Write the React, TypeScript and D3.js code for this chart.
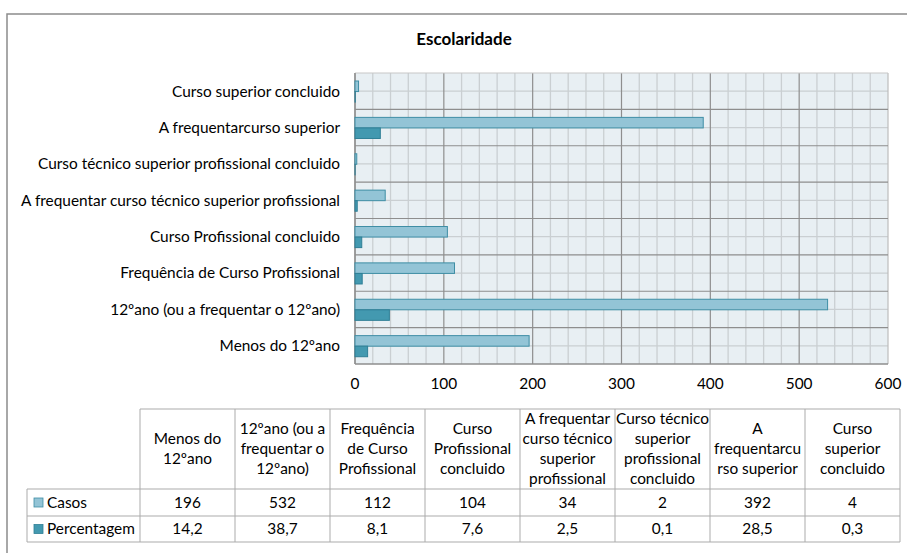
import React from "react";
import * as d3 from "d3";

const categories = [
  "Menos do 12ºano",
  "12ºano (ou a frequentar o 12ºano)",
  "Frequência de Curso Profissional",
  "Curso Profissional concluido",
  "A frequentar curso técnico superior profissional",
  "Curso técnico superior profissional concluido",
  "A frequentarcurso superior",
  "Curso superior concluido",
];
const tableHeaders = [
  ["Menos do", "12ºano"],
  ["12ºano (ou a", "frequentar o", "12ºano)"],
  ["Frequência", "de Curso", "Profissional"],
  ["Curso", "Profissional", "concluido"],
  ["A frequentar", "curso técnico", "superior", "profissional"],
  ["Curso técnico", "superior", "profissional", "concluido"],
  ["A", "frequentarcu", "rso superior"],
  ["Curso", "superior", "concluido"],
];
const casos = [196, 532, 112, 104, 34, 2, 392, 4];
const percentagem = [14.2, 38.7, 8.1, 7.6, 2.5, 0.1, 28.5, 0.3];
const percentLabels = ["14,2", "38,7", "8,1", "7,6", "2,5", "0,1", "28,5", "0,3"];
const seriesNames = ["Casos", "Percentagem"];
const xTicks = [0, 100, 200, 300, 400, 500, 600];

const FONT = "Lato, 'Open Sans', sans-serif";
const FS = 15.4;
const C_CASOS = "#93C4D6";
const C_CASOS_S = "#3F8EA5";
const C_PERC = "#4399B0";
const C_PERC_S = "#2F7F96";

export default function App() {
  const W = 907, H = 553;
  const left = 355, right = 888, top = 73, bottom = 364;
  const x = d3.scaleLinear().domain([0, 600]).range([left, right]);
  const y = d3.scaleBand<string>().domain(categories.slice().reverse()).range([top, bottom]).paddingInner(0);
  const bw = y.bandwidth();
  const minorX = d3.range(0, 601, 20);
  const tLeft = 140, colW = 95;
  const col = d3.scaleBand<number>().domain(d3.range(categories.length)).range([tLeft, tLeft + colW * categories.length]);
  const hTop = 409, hBot = 489, r1 = 516, r2 = 542, tableL = 27;
  const tableR = tLeft + colW * categories.length;
  const borderC = "#ABABAB";

  return (
    <svg width={W} height={H} style={{ position: "absolute", left: 0, top: 0, background: "#fff" }} fontFamily={FONT}>
      <rect x={7} y={14} width={W + 10} height={H + 10} fill="#fff" stroke="#8C8C8C" strokeWidth={1.5} />
      <text x={464} y={45} textAnchor="middle" fontSize={17} fontWeight="bold" fill="#000">Escolaridade</text>

      {/* plot area */}
      <rect x={left} y={top} width={right - left} height={bottom - top} fill="#E8EFF3" />
      {minorX.filter(v => v % 100 !== 0).map(v => (
        <line key={"mx" + v} x1={x(v)} x2={x(v)} y1={top} y2={bottom} stroke="#CACFD2" strokeWidth={1.3} />
      ))}
      {y.domain().map(c => (
        <line key={"my" + c} x1={left} x2={right} y1={y(c)! + bw / 2} y2={y(c)! + bw / 2} stroke="#CACFD2" strokeWidth={1.3} />
      ))}
      {xTicks.map(v => (
        <line key={"Mx" + v} x1={x(v)} x2={x(v)} y1={top} y2={bottom} stroke={v === 600 ? "#BDBDBD" : "#8E8E8E"} strokeWidth={1.2} />
      ))}
      {y.domain().map((c, i) => (
        <line key={"My" + c} x1={left} x2={right} y1={y(c)!} y2={y(c)!} stroke={i === 0 ? "#C8C8C8" : "#8E8E8E"} strokeWidth={1.2} />
      ))}
      <line x1={left} x2={right} y1={bottom} y2={bottom} stroke="#8E8E8E" strokeWidth={1.3} />
      <line x1={left} x2={left} y1={top} y2={bottom} stroke="#8E8E8E" strokeWidth={1.3} />

      {/* bars */}
      {categories.map((c, i) => {
        const b = y(c)!;
        const h = bw * 0.29;
        const y1 = b + bw * 0.22;
        return (
          <g key={"b" + i}>
            <rect x={x(0)} y={y1} width={x(casos[i]) - x(0)} height={h} fill={C_CASOS} stroke={C_CASOS_S} strokeWidth={1} />
            <rect x={x(0)} y={y1 + h} width={x(percentagem[i]) - x(0)} height={h} fill={C_PERC} stroke={C_PERC_S} strokeWidth={1} />
          </g>
        );
      })}

      {/* y labels */}
      {categories.map((c, i) => (
        <text key={"yl" + i} x={340} y={y(c)! + bw / 2} dy="0.35em" textAnchor="end" fontSize={FS} fill="#000">{c}</text>
      ))}
      {/* x labels */}
      {xTicks.map(v => (
        <text key={"xl" + v} x={x(v)} y={389} textAnchor="middle" fontSize={FS} fill="#000">{v}</text>
      ))}

      {/* table */}
      <g stroke={borderC} strokeWidth={1} fill="none">
        <line x1={tLeft} x2={tableR} y1={hTop} y2={hTop} />
        <line x1={tableL} x2={tableR} y1={hBot} y2={hBot} />
        <line x1={tableL} x2={tableR} y1={r1} y2={r1} />
        <line x1={tableL} x2={tableR} y1={r2} y2={r2} />
        <line x1={tableL} x2={tableL} y1={hBot} y2={r2} />
        {d3.range(categories.length + 1).map(k => (
          <line key={"tv" + k} x1={tLeft + k * colW} x2={tLeft + k * colW} y1={hTop} y2={r2} />
        ))}
      </g>
      {tableHeaders.map((lines, i) => {
        const cx = col(i)! + col.bandwidth() / 2;
        const mid = (hTop + hBot) / 2;
        return (
          <text key={"th" + i} textAnchor="middle" fontSize={FS} fill="#000">
            {lines.map((l, j) => (
              <tspan key={j} x={cx} y={mid + (j - (lines.length - 1) / 2) * 20} dy="0.35em">{l}</tspan>
            ))}
          </text>
        );
      })}
      {casos.map((v, i) => (
        <text key={"c" + i} x={col(i)! + col.bandwidth() / 2} y={(hBot + r1) / 2} dy="0.35em" textAnchor="middle" fontSize={FS} fill="#000">{v}</text>
      ))}
      {percentLabels.map((v, i) => (
        <text key={"p" + i} x={col(i)! + col.bandwidth() / 2} y={(r1 + r2) / 2} dy="0.35em" textAnchor="middle" fontSize={FS} fill="#000">{v}</text>
      ))}
      {seriesNames.map((s, i) => {
        const cy = i === 0 ? (hBot + r1) / 2 : (r1 + r2) / 2;
        return (
          <g key={"lg" + i}>
            <rect x={34} y={cy - 4.5} width={9} height={9} fill={i === 0 ? C_CASOS : C_PERC} stroke={i === 0 ? C_CASOS_S : C_PERC_S} strokeWidth={0.8} />
            <text x={47} y={cy} dy="0.35em" fontSize={FS} fill="#000">{s}</text>
          </g>
        );
      })}
    </svg>
  );
}
